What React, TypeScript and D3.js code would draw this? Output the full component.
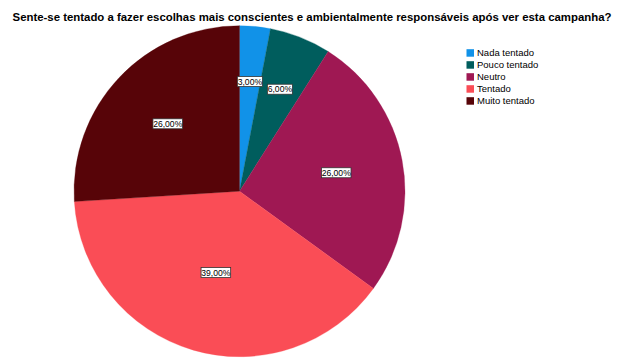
import React from "react";
import * as d3 from "d3";

const title = "Sente-se tentado a fazer escolhas mais conscientes e ambientalmente responsáveis após ver esta campanha?";
const categories = ["Nada tentado", "Pouco tentado", "Neutro", "Tentado", "Muito tentado"];
const values = [3, 6, 26, 39, 26];
const colors = ["#1192e8", "#005d5d", "#9f1853", "#fa4d56", "#570408"];

const W = 627;
const H = 358;
const cx = 239.5;
const cy = 191.2;
const R = 165.5;

export default function App() {
  const pie = d3.pie<number>().sort(null).value((d) => d)(values);
  const arc = d3.arc<d3.PieArcDatum<number>>().innerRadius(0).outerRadius(R);
  const fmt = (v: number) => v.toFixed(2).replace(".", ",") + "%";
  const labelPos = (a: d3.PieArcDatum<number>) => {
    const alpha = a.endAngle - a.startAngle;
    const mid = (a.startAngle + a.endAngle) / 2;
    const d = (4 * R * Math.sin(alpha / 2)) / (3 * alpha);
    return [d * Math.sin(mid), -d * Math.cos(mid)];
  };
  const legendY = d3.scaleBand<string>().domain(categories).range([47, 107]);
  return (
    <svg width={W} height={H} style={{ position: "absolute", left: 0, top: 0, background: "#fff" }}
      fontFamily="'Liberation Sans', Arial, sans-serif">
      <text x={312} y={21} textAnchor="middle" fontWeight="bold" fontSize={11.4} fill="#000">{title}</text>
      <g transform={`translate(${cx},${cy})`}>
        {pie.map((p, i) => (
          <path key={i} d={arc(p) || ""} fill={colors[i]} stroke={colors[i]} strokeWidth={0.3} />
        ))}
        {pie.map((p, i) => {
          const [x, y] = labelPos(p);
          const t = fmt(values[i]);
          const w = t.length * 4.6 + 2;
          return (
            <g key={"l" + i} transform={`translate(${x},${y})`}>
              <rect x={-w / 2} y={-5} width={w} height={10} fill="#fff" stroke="#333" strokeWidth={0.8} />
              <text x={0} y={3.2} textAnchor="middle" fontSize={8.6} fill="#000">{t}</text>
            </g>
          );
        })}
      </g>
      <g>
        {categories.map((c, i) => {
          const y = (legendY(c) || 0) + legendY.bandwidth() / 2;
          return (
            <g key={c}>
              <rect x={466.5} y={y - 3.8} width={7.5} height={7.5} fill={colors[i]} />
              <text x={477} y={y + 3.3} fontSize={9.5} fill="#000">{c}</text>
            </g>
          );
        })}
      </g>
    </svg>
  );
}
